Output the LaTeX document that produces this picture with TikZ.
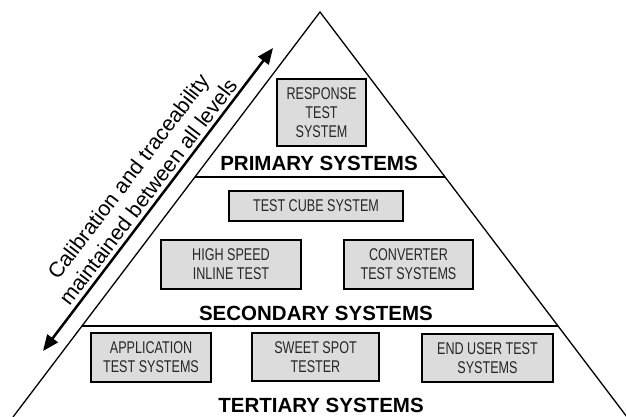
\documentclass[tikz,border=0pt]{standalone}
\usepackage{fontspec}
\setmainfont{Liberation Sans}
\newfontfamily\narrowfont[FakeStretch=0.74]{Liberation Sans}
\usetikzlibrary{arrows.meta,calc}
\definecolor{boxfill}{HTML}{DCDCDC}
\begin{document}
\begin{tikzpicture}[x=1pt,y=-1pt,
  sysbox/.style={draw=black, line width=1.4pt, fill=boxfill, inner sep=0pt, align=center,
    font=\narrowfont\fontsize{17}{19}\selectfont, text=black!85},
  levellabel/.style={font=\bfseries\fontsize{20.5}{24}\selectfont, inner sep=0pt},
  pyredge/.style={line width=1.3pt, line join=miter},
  divider/.style={line width=1.8pt},
  linkarrow/.style={line width=2.5pt, {Triangle[length=16pt,width=13pt]}-{Triangle[length=16pt,width=13pt]}}]
\useasboundingbox (0,0) rectangle (626,417);
\coordinate (apex) at (320,12);
\coordinate (bl) at (13,417);
\coordinate (br) at (627,417);
\begin{scope}
  \clip (0,0) rectangle (626,417);
  \draw[pyredge] (bl) -- (apex) -- (br);
\end{scope}
\draw[divider] ($(apex)!0.4074!(bl)$) -- ($(apex)!0.4074!(br)$);
\draw[divider] ($(apex)!0.7753!(bl)$) -- ($(apex)!0.7753!(br)$);

\node[sysbox, minimum width=89pt, minimum height=67pt] (resp) at (321.5,112.5) {RESPONSE\\TEST\\SYSTEM};
\node[levellabel] (prim) at (319,163) {PRIMARY SYSTEMS};

\node[sysbox, minimum width=174pt, minimum height=30pt] (cube) at (316,206) {TEST CUBE SYSTEM};
\node[sysbox, minimum width=140pt, minimum height=49pt] (hsit) at (231,264.5) {HIGH SPEED\\INLINE TEST};
\node[sysbox, minimum width=129pt, minimum height=49pt] (conv) at (408.5,264.5) {CONVERTER\\TEST SYSTEMS};
\node[levellabel] (sec) at (316,313) {SECONDARY SYSTEMS};

\node[sysbox, minimum width=120pt, minimum height=49pt] (appl) at (151,357.5) {APPLICATION\\TEST SYSTEMS};
\node[sysbox, minimum width=127pt, minimum height=48pt] (sweet) at (315.5,357) {SWEET SPOT\\TESTER};
\node[sysbox, minimum width=131pt, minimum height=48pt] (enduser) at (487.5,358) {END USER TEST\\SYSTEMS};
\node[levellabel] (tert) at (321,405) {TERTIARY SYSTEMS};

\coordinate (alo) at (43,351);
\coordinate (ahi) at (273,48);
\draw[linkarrow] (alo) -- (ahi);
\node[rotate=52.7, align=center, inner sep=0pt, font=\fontsize{21.3}{25}\selectfont] (calib) at (138,184) {Calibration and traceability\\maintained between all levels};
\end{tikzpicture}
\end{document}
